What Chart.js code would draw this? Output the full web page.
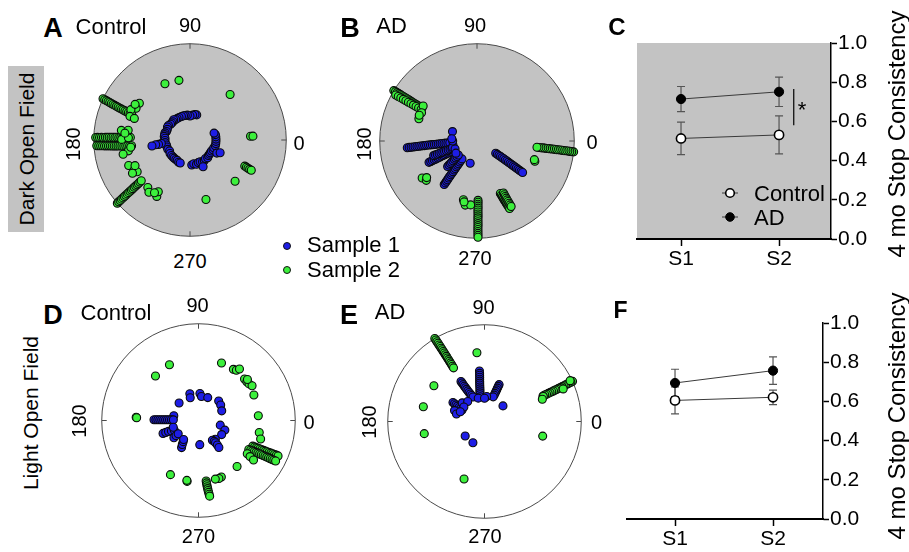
<!DOCTYPE html>
<html>
<head>
<meta charset="utf-8">
<script src="https://cdn.jsdelivr.net/npm/chart.js@4.4.1/dist/chart.umd.min.js"></script>
<style>
  html, body { margin: 0; padding: 0; background: #fff; }
  body { width: 909px; height: 552px; position: relative; overflow: hidden;
         font-family: "Liberation Sans", Arial, sans-serif; color: #000; }
  canvas { position: absolute; }
  .t { position: absolute; line-height: 1; white-space: nowrap; transform: translate(-50%, -50%); }
  .l { position: absolute; line-height: 1; white-space: nowrap; transform: translate(0, -50%); }
  .dot { position: absolute; width: 6px; height: 6px; border-radius: 50%; border: 0.8px solid #111;
         transform: translate(-50%, -50%); }
</style>
</head>
<body>
<div style="position:absolute;left:8px;top:66px;width:36px;height:166px;background:#c3c3c3"></div>
<script>
// ---- data ----
// polar scatter points: [angle in degrees, normalised radius]
const darkCtrlS1 = [
  [75,.27],[79,.27],[84,.26],[90,.25],[96,.26],[101,.26],[105,.26],[110,.26],[116,.26],[121,.26],
  [125,.26],[129,.27],[133,.26],[137,.26],[141,.26],[146,.27],[150,.27],[155,.26],[160,.26],[164,.27],
  [168,.27],[172,.27],[176,.26],[181,.26],[186,.26],[192,.25],[197,.25],[203,.25],[208,.24],[214,.25],
  [220,.25],[225,.25],[229,.25],[234,.25],[238,.25],[243,.26],[247,.26],
  [187,.30],[188,.33],[188,.36],[189,.40],
  [274,.26],[279,.25],[285,.26],[290,.25],[295,.25],[300,.26],[305,.26],[310,.25],[315,.26],[320,.25],
  [324,.25],[328,.25],[333,.25],[337,.26],[342,.26],[347,.27],[352,.27],[357,.27],[2,.27],[7,.27],
  [12,.27],[16,.26],[296,.31],[334,.31],[337,.34]
];
const darkCtrlS2 = [
  [114,.64],[100.5,.63],[48.6,.63],[3.6,.63],[3.5,.655],[317.5,.635],[285,.64],
  [334.5,.63],[334.3,.65],[334,.67],[333.8,.69],[333.7,.71],
  [154.6,1.0],[154.7,.98],[154.8,.96],[154.9,.94],[155,.92],[155.1,.90],[155.2,.88],[155.3,.86],
  [155.4,.84],[155.5,.82],[155.6,.80],[155.7,.78],[155.8,.76],[155.9,.74],[156,.72],[156.1,.70],
  [156.3,.68],[156.4,.66],
  [144,.65],[149.5,.65],[152.8,.69],[158.5,.67],[158.8,.62],[147,.68],
  [178.5,.98],[178.4,.96],[178.4,.94],[178.3,.92],[178.3,.90],[178.2,.88],[178.2,.86],[178.1,.84],
  [178.1,.82],[178,.80],[178,.78],[177.9,.76],[177.9,.74],[177.8,.72],[177.8,.70],[177.7,.68],
  [177.6,.66],[177.6,.64],[177.5,.62],
  [183.5,.97],[183.6,.95],[183.7,.93],[183.8,.91],[183.9,.89],[184,.87],[184.1,.85],[184.2,.83],
  [184.4,.81],[184.5,.79],[184.6,.77],[184.7,.75],[184.8,.73],[185,.71],[185.1,.69],[185.2,.67],
  [185.3,.65],[185.5,.63],[185.6,.61],
  [172,.72],[171,.65],[179.5,.71],[178,.64],[190,.65],[192,.71],[174,.68],[187,.62],
  [221,1.0],[220.9,.98],[220.9,.96],[220.8,.94],[220.8,.92],[220.7,.90],[220.7,.88],[220.6,.86],
  [220.6,.84],[220.5,.82],[220.5,.80],[220.4,.78],[220.3,.76],[220.3,.74],[220.2,.72],[220.1,.70],
  [220,.68],[219.9,.66],
  [202.6,.69],[208.5,.66],[211,.64],[210,.69],[205,.63],[228.4,.66],[231.8,.69],[239.5,.68],
  [238.5,.63],[236,.66]
];
const darkADS1 = [
  [185.5,.72],[185.4,.70],[185.4,.68],[185.3,.66],[185.3,.64],[185.2,.62],[185.1,.60],[185.1,.58],
  [185,.56],[185,.54],[184.9,.52],[184.8,.50],[184.8,.48],[184.7,.46],[184.6,.44],[184.5,.42],
  [184.4,.40],[184.3,.38],[184.2,.36],[184.1,.34],[184,.32],[183.8,.30],[183.5,.28],
  [204,.54],[203.9,.52],[203.8,.50],[203.7,.48],[203.6,.46],[203.5,.44],[203.4,.42],[203.2,.40],
  [203.1,.38],[203,.36],[202.8,.34],[202.6,.32],[202.4,.30],[202.2,.28],
  [198.6,.47],[198.5,.45],[198.4,.43],[198.3,.41],[198.1,.39],[198,.37],[197.8,.35],[197.6,.33],
  [197.4,.31],[197.2,.29],[197,.27],
  [233,.56],[232.9,.54],[232.8,.52],[232.7,.50],[232.5,.48],[232.4,.46],[232.3,.44],[232.1,.42],
  [232,.40],[231.8,.38],[231.6,.36],[231.4,.34],[231.2,.32],[231,.30],[230.7,.28],[230.4,.26],[230,.24],
  [221,.40],[220.6,.38],[220.2,.36],[219.8,.34],[219.4,.32],[219,.30],[218.4,.28],[217.6,.26],[216.8,.24],
  [159,.27],[253,.24],[190,.25],[195,.26],[200,.24],[210,.25],[180,.25],[175,.26],
  [326.8,.23],[326.7,.25],[326.6,.27],[326.5,.29],[326.4,.31],[326.3,.33],[326.2,.35],[326.1,.37],
  [326,.39],[325.9,.41],[325.8,.43],[325.7,.45],[325.6,.47],[325.6,.49],[325.5,.51],[325.4,.53],
  [325.4,.55],[325.3,.57]
];
const darkADS2 = [
  [148.8,1.0],[148.8,.98],[148.8,.96],[148.8,.94],[148.8,.92],[148.9,.90],[148.9,.88],[148.9,.86],
  [148.9,.84],[148.9,.82],[149,.80],[149,.78],[149,.76],[149,.74],[149,.72],[149,.70],[149,.68],[149,.66],
  [150.5,.96],[150.5,.93],[150.5,.90],[150.5,.87],[150.5,.84],[150.5,.81],[150.5,.78],[150.5,.75],
  [150.5,.72],[150.5,.69],[150.5,.66],
  [147,.66],[153,.64],[159,.64],[156,.65],
  [353.6,1.0],[353.6,.98],[353.6,.96],[353.7,.94],[353.7,.92],[353.7,.90],[353.7,.88],[353.8,.86],
  [353.8,.84],[353.8,.82],[353.8,.80],[353.9,.78],[353.9,.76],[353.9,.74],[353.9,.72],[354,.70],
  [354,.68],[354,.66],[354,.64],[354,.62],
  [340.7,.63],[342,.62],
  [294,.59],[294.2,.61],[294.4,.63],[294.6,.65],[294.8,.67],[295,.69],[295.2,.71],[295.4,.73],
  [295.6,.75],[295.8,.77],
  [297,.60],[297,.62],[297,.64],[297.1,.66],[297.1,.68],[297.2,.70],[297.3,.72],[297.4,.74],[297.5,.76],
  [271,.61],[271,.63],[270.9,.65],[270.9,.67],[270.9,.69],[270.8,.71],[270.8,.73],[270.8,.75],
  [270.8,.77],[270.7,.79],[270.7,.81],[270.7,.83],[270.7,.85],[270.7,.87],[270.6,.89],[270.6,.91],
  [270.6,.93],[270.6,.95],[270.6,.97],[270.6,.99],
  [257,.62],[259.6,.67],[264.3,.66],[258,.64],
  [214,.68],[217.8,.66],[216,.64]
];
const lightCtrlS1 = [
  [108,.29],[110,.25],[87,.28],[83,.25],[68,.255],[138,.27],[44,.29],[35,.28],[22.6,.26],[169,.26],
  [179,.46],[179,.44],[179,.42],[179,.40],[178.9,.38],[178.8,.36],[178.7,.34],[178.7,.32],[178.6,.30],
  [178.5,.28],[178.5,.26],
  [348,.23],[340,.29],[328.7,.28],[312,.26],
  [305,.25],[307,.27],[307.3,.29],[307.5,.32],[307,.35],
  [273,.25],
  [200,.39],[200,.36],[200,.33],[201,.30],[202,.27],
  [215,.31],[214,.28],[213,.25],
  [238,.33],[236,.30],[234,.27],[232,.25],[195,.27]
];
const lightCtrlS2 = [
  [117.5,.65],[134,.64],[68.2,.64],[55.7,.64],[53,.65],[51.5,.68],[42,.64],[38.7,.64],[35.9,.645],
  [33,.66],[40,.66],[24.7,.63],[4.5,.62],[348.8,.64],[343.4,.67],
  [334.7,.62],[334.8,.64],[334.9,.66],[335,.68],[335.1,.70],[335.2,.72],[335.3,.74],[335.4,.76],
  [335.5,.78],[335.6,.80],[335.7,.82],[335.8,.84],[335.9,.86],[336,.88],[336,.90],
  [330,.60],[330.3,.62],[330.6,.64],[330.8,.66],[331,.68],[331.2,.70],[331.3,.72],[331.4,.74],
  [331.6,.76],[331.7,.78],[331.8,.80],[331.9,.82],[332,.84],[332.1,.86],[332.2,.88],[332.3,.90],
  [325.7,.61],[325,.65],[324.3,.70],
  [310,.62],[292,.63],[289.4,.635],[286,.63],
  [277.2,.63],[277.3,.65],[277.4,.67],[277.5,.69],[277.7,.71],[277.8,.73],[278,.75],[278.2,.77],[278.4,.79],
  [259.4,.64],[259,.63],[242.6,.63],[177,.645],[177.5,.64]
];
const lightADS1 = [
  [95.7,.525],[95.8,.50],[96,.48],[96.2,.46],[96.5,.44],[96.8,.42],[97.1,.40],[97.4,.38],[97.7,.36],
  [98,.34],[98.5,.32],[99,.30],[99.6,.28],[100.2,.26],
  [120.4,.48],[120.2,.46],[120,.44],[119.7,.42],[119.4,.40],[119,.38],[118.5,.36],[118,.34],
  [117.2,.32],[116.2,.30],[115,.28],
  [68.4,.41],[68.6,.39],[68.8,.37],[69,.35],[69.3,.33],[69.6,.31],[70,.29],[70.6,.27],
  [40.2,.25],
  [149,.38],[149.5,.36],[150,.34],[150.6,.32],[151.2,.30],[152,.28],[153,.26],
  [160,.33],[165,.30],[140,.30],[130,.27],[105,.25],[85,.26],[90,.24],[145,.26],[158,.27],
  [217,.25],[241.4,.25]
];
const lightADS2 = [
  [120.9,1.0],[120.8,.98],[120.8,.96],[120.7,.94],[120.7,.92],[120.6,.90],[120.6,.88],[120.5,.86],
  [120.5,.84],[120.4,.82],[120.4,.80],[120.3,.78],[120.3,.76],[120.2,.74],[120.2,.72],[120.1,.70],
  [120.1,.68],[120,.66],[120,.64],
  [96.3,.715],[144.8,.64],[166.5,.65],[191.4,.635],[250.4,.63],[345.9,.62],
  [24.5,1.0],[24.4,.98],[24.4,.96],[24.3,.94],[24.3,.92],[24.2,.90],[24.2,.88],[24.1,.86],[24.1,.84],
  [24,.82],[24,.80],[23.9,.78],[23.9,.76],[23.8,.74],[23.8,.72],[23.7,.70],[23.7,.68],[23.6,.66],
  [23,.66],[21,.64],[25.5,.98],[22.5,.88]
];

// stop consistency, mean and SEM per session
const sessions = ['S1', 'S2'];
const consistencyTicks = [0, 0.2, 0.4, 0.6, 0.8, 1.0];
const darkCtrl = [0.513, 0.531];
const darkCtrlSem = [0.083, 0.097];
const darkAD = [0.714, 0.751];
const darkADSem = [0.064, 0.075];
const lightCtrl = [0.605, 0.621];
const lightCtrlSem = [0.069, 0.037];
const lightAD = [0.694, 0.757];
const lightADSem = [0.070, 0.070];

// ---- helpers ----
const FONT = '"Liberation Sans", Arial, sans-serif';
const blue = '#1e1ee6', green = '#3cf03c', edge = '#0a0a0a';
const gray = '#c3c3c3';

function text(str, x, y, size, opt = {}) {
    const d = document.createElement('div');
    d.className = opt.left ? 'l' : 't';
    d.textContent = str;
    d.style.left = x + 'px';
    d.style.top = y + 'px';
    d.style.fontSize = size + 'px';
    if (opt.bold) d.style.fontWeight = 'bold';
    if (opt.rot) d.style.transform = 'translate(-50%, -50%) rotate(-90deg)';
    document.body.appendChild(d);
}

function dot(x, y, color) {
    const d = document.createElement('div');
    d.className = 'dot';
    d.style.left = x + 'px';
    d.style.top = y + 'px';
    d.style.background = color;
    document.body.appendChild(d);
}

function addCanvas(left, top, w, h) {
    const c = document.createElement('canvas');
    c.width = w;
    c.height = h;
    c.style.left = left + 'px';
    c.style.top = top + 'px';
    c.style.width = w + 'px';
    c.style.height = h + 'px';
    document.body.appendChild(c);
    return c;
}

const toXY = pts => pts.map(([a, r]) => ({
    x: r * Math.cos(a * Math.PI / 180),
    y: r * Math.sin(a * Math.PI / 180),
}));

function polar(cx, cy, R, bg, s1, s2) {
    const S = Math.round(2 * R + 16);
    const k = S / (2 * R);
    const canvas = addCanvas(Math.round(cx - S / 2), Math.round(cy - S / 2), S, S);
    const pointStyle = { borderColor: edge, borderWidth: 1.1, pointRadius: 4, pointHoverRadius: 4 };
    return new Chart(canvas.getContext('2d'), {
        type: 'scatter',
        data: {
            datasets: [
                { label: 'Sample 2', data: toXY(s2), backgroundColor: green, ...pointStyle },
                { label: 'Sample 1', data: toXY(s1), backgroundColor: blue, ...pointStyle },
            ]
        },
        options: {
            responsive: false,
            animation: false,
            events: [],
            layout: { padding: 0 },
            plugins: { legend: { display: false }, tooltip: { enabled: false } },
            scales: {
                x: { display: false, min: -k, max: k },
                y: { display: false, min: -k, max: k },
            },
        },
        plugins: [{
            id: 'polarFrame',
            beforeDatasetsDraw(chart) {
                const { ctx, scales: { x, y } } = chart;
                const ox = x.getPixelForValue(0), oy = y.getPixelForValue(0);
                const rr = x.getPixelForValue(1) - ox;
                ctx.save();
                ctx.beginPath();
                ctx.arc(ox, oy, rr, 0, 2 * Math.PI);
                ctx.fillStyle = bg;
                ctx.fill();
                ctx.lineWidth = 1;
                ctx.strokeStyle = '#4a4a4a';
                ctx.stroke();
                // little ticks at 0/90/180/270
                ctx.beginPath();
                for (let a = 0; a < 360; a += 90) {
                    const c = Math.cos(a * Math.PI / 180), s = Math.sin(a * Math.PI / 180);
                    ctx.moveTo(ox + c * rr, oy - s * rr);
                    ctx.lineTo(ox + c * (rr - 5), oy - s * (rr - 5));
                }
                ctx.stroke();
                ctx.restore();
            }
        }]
    });
}

function stopChart(box, pad, xRange, xh, shade, ctrl, ctrlSem, ad, adSem, extras) {
    const canvas = addCanvas(box[0], box[1], box[2], box[3]);
    const tickFont = { family: FONT, size: 21 };
    const lineStyle = { borderColor: '#3a3a3a', borderWidth: 1, tension: 0, pointRadius: 4.6, pointHoverRadius: 4.6 };
    return new Chart(canvas.getContext('2d'), {
        type: 'line',
        data: {
            datasets: [
                { label: 'AD', data: ad.map((v, i) => ({ x: i + 1, y: v })), sem: adSem,
                  pointBackgroundColor: '#000', pointBorderColor: '#000', pointBorderWidth: 1, ...lineStyle },
                { label: 'Control', data: ctrl.map((v, i) => ({ x: i + 1, y: v })), sem: ctrlSem,
                  pointBackgroundColor: '#fff', pointBorderColor: '#000', pointBorderWidth: 1.6, ...lineStyle },
            ]
        },
        options: {
            responsive: false,
            animation: false,
            events: [],
            layout: { padding: pad },
            plugins: { legend: { display: false }, tooltip: { enabled: false } },
            scales: {
                x: {
                    type: 'linear', min: xRange[0], max: xRange[1],
                    afterBuildTicks: s => { s.ticks = sessions.map((_, i) => ({ value: i + 1 })); },
                    ticks: { callback: v => sessions[v - 1], font: tickFont, color: '#000', padding: 1, maxRotation: 0, autoSkip: false },
                    grid: { drawOnChartArea: false, tickLength: 7, tickColor: '#000', tickWidth: 1.5 },
                    border: { color: '#000', width: 2 },
                    afterFit: s => { s.height = xh; },
                },
                y: {
                    position: 'right', min: 0, max: 1,
                    afterBuildTicks: s => { s.ticks = consistencyTicks.map(v => ({ value: v })); },
                    ticks: { callback: v => v.toFixed(1), font: tickFont, color: '#000', padding: 1 },
                    grid: { drawOnChartArea: false, tickLength: 6, tickColor: '#000', tickWidth: 1.5 },
                    border: { color: '#000', width: 1.5 },
                    afterFit: s => { s.width = 52; },
                },
            },
        },
        plugins: [{
            id: 'shade',
            beforeDraw(chart) {
                if (!shade) return;
                const { ctx, chartArea: a } = chart;
                ctx.save();
                ctx.fillStyle = gray;
                ctx.fillRect(a.left, a.top, a.right - a.left, a.bottom - a.top);
                ctx.restore();
            }
        }, {
            id: 'semBars',
            beforeDatasetsDraw(chart) {
                const { ctx, scales: { x, y } } = chart;
                ctx.save();
                ctx.strokeStyle = '#555';
                ctx.lineWidth = 1.2;
                chart.data.datasets.forEach(ds => ds.data.forEach((p, i) => {
                    const px = x.getPixelForValue(p.x);
                    const t = y.getPixelForValue(p.y + ds.sem[i]);
                    const b = y.getPixelForValue(p.y - ds.sem[i]);
                    ctx.beginPath();
                    ctx.moveTo(px, t); ctx.lineTo(px, b);
                    ctx.moveTo(px - 4, t); ctx.lineTo(px + 4, t);
                    ctx.moveTo(px - 4, b); ctx.lineTo(px + 4, b);
                    ctx.stroke();
                }));
                ctx.restore();
            }
        }, {
            id: 'extras',
            afterDatasetsDraw(chart) {
                if (!extras) return;
                const { ctx, scales: { x, y }, chartArea: a } = chart;
                ctx.save();
                // significance bar
                const sx = x.getPixelForValue(extras.sig[0]);
                ctx.strokeStyle = '#000';
                ctx.lineWidth = 1.2;
                ctx.beginPath();
                ctx.moveTo(sx, y.getPixelForValue(extras.sig[1]));
                ctx.lineTo(sx, y.getPixelForValue(extras.sig[2]));
                ctx.stroke();
                ctx.fillStyle = '#000';
                ctx.font = '22px ' + FONT;
                ctx.textBaseline = 'middle';
                ctx.fillText('*', sx + 4, (y.getPixelForValue(extras.sig[1]) + y.getPixelForValue(extras.sig[2])) / 2 + 4);
                // legend
                const items = [
                    { label: 'Control', fill: '#fff', bw: 1.6, dy: 150 },
                    { label: 'AD', fill: '#000', bw: 1, dy: 174 },
                ];
                const mx = a.left + 93;
                items.forEach(it => {
                    const my = a.top + it.dy;
                    ctx.strokeStyle = '#3a3a3a';
                    ctx.lineWidth = 1;
                    ctx.beginPath();
                    ctx.moveTo(mx - 8, my); ctx.lineTo(mx + 8, my);
                    ctx.stroke();
                    ctx.beginPath();
                    ctx.arc(mx, my, 4.3, 0, 2 * Math.PI);
                    ctx.fillStyle = it.fill;
                    ctx.fill();
                    ctx.lineWidth = it.bw;
                    ctx.strokeStyle = '#000';
                    ctx.stroke();
                    ctx.fillStyle = '#000';
                    ctx.textBaseline = 'alphabetic';
                    ctx.fillText(it.label, mx + 24, my + 8);
                });
                ctx.restore();
            }
        }]
    });
}

// ---- panels ----
polar(189.5, 140, 101, gray, darkCtrlS1, darkCtrlS2);
polar(477.3, 141.3, 102, gray, darkADS1, darkADS2);
polar(198.7, 420, 101.5, '#fff', lightCtrlS1, lightCtrlS2);
polar(484.7, 421.3, 101.5, '#fff', lightADS1, lightADS2);

stopChart([600, 0, 309, 280], { left: 37, top: 43, right: 26, bottom: 5 }, [0.551, 2.53], 36, true,
    darkCtrl, darkCtrlSem, darkAD, darkADSem, { sig: [2.15, 0.765, 0.58] });
stopChart([600, 280, 309, 272], { left: 27, top: 43, right: 34, bottom: 3 }, [0.51, 2.51], 30, false,
    lightCtrl, lightCtrlSem, lightAD, lightADSem, null);

// ---- text ----
text('A', 53, 28, 27, { bold: true });
text('Control', 111, 27, 22);
text('B', 350, 28, 27, { bold: true });
text('AD', 391.5, 26, 22);
text('C', 617, 27, 24, { bold: true });
text('D', 53, 315, 27, { bold: true });
text('Control', 116, 313, 22);
text('E', 349, 315, 27, { bold: true });
text('AD', 390, 312, 22);
text('F', 620.5, 309.5, 23, { bold: true });

// polar angle labels
const angleLabels = [
    [[190, 25], [299, 143], [73, 144], [190, 261]],
    [[475, 25], [592, 142], [363.5, 144], [475, 257.5]],
    [[197.5, 305], [309, 421.5], [79, 421], [198.5, 535.5]],
    [[483.5, 306.5], [596.5, 421.5], [369, 422], [485, 535.5]],
];
angleLabels.forEach(p => {
    text('90', p[0][0], p[0][1], 20);
    text('0', p[1][0], p[1][1], 20);
    text('180', p[2][0], p[2][1], 20, { rot: true });
    text('270', p[3][0], p[3][1], 20);
});

dot(287, 246, blue);
dot(287, 270, green);
text('Sample 1', 307, 245, 22, { left: true });
text('Sample 2', 307, 270, 22, { left: true });

text('Dark Open Field', 26, 149, 21, { rot: true });
text('Light Open Field', 30, 413, 21, { rot: true });
text('4 mo Stop Consistency', 897, 134, 24, { rot: true });
text('4 mo Stop Consistency', 897, 416, 24, { rot: true });
</script>
</body>
</html>
